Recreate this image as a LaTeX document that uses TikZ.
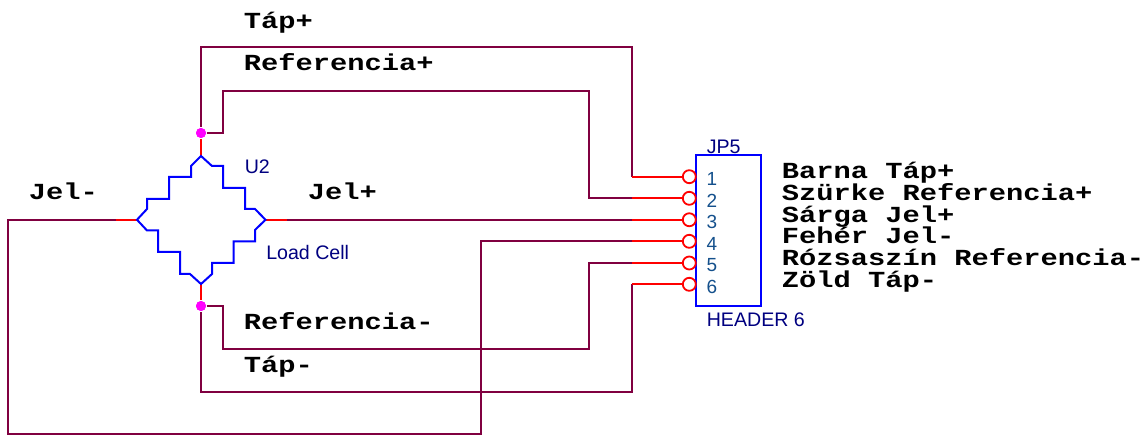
\documentclass[tikz,border=0pt]{standalone}
\usepackage{fontspec}
\setmainfont{Liberation Sans}
\newfontfamily\wirefont[FakeStretch=1.25]{Liberation Mono}
\usetikzlibrary{positioning}
\definecolor{wirecol}{RGB}{128,0,64}
\definecolor{pincol}{RGB}{255,0,0}
\definecolor{partcol}{RGB}{0,0,255}
\definecolor{namecol}{RGB}{0,0,128}
\definecolor{numcol}{RGB}{20,80,140}
\definecolor{dotcol}{RGB}{255,0,255}

\begin{document}
\begin{tikzpicture}[x=1pt,y=-1pt,line width=1.6pt]
  \tikzstyle{wire}=[draw=wirecol]
  \tikzstyle{pin}=[draw=pincol,line width=2pt]
  \tikzstyle{part}=[draw=partcol,line width=2pt]
  \tikzstyle{pad}=[circle,draw=pincol,fill=white,line width=1.8pt,minimum size=13pt,inner sep=0pt]
  \tikzstyle{joint}=[circle,fill=dotcol,minimum size=10pt,inner sep=0pt]
  \tikzstyle{signal}=[anchor=base west,inner sep=0pt,font=\wirefont\bfseries\fontsize{23}{23}\selectfont]
  \tikzstyle{partname}=[anchor=base west,inner sep=0pt,text=namecol,font=\fontsize{19.6}{19.6}\selectfont]
  \tikzstyle{pinnum}=[anchor=base,inner sep=0pt,text=numcol,font=\fontsize{19}{19}\selectfont]

  \useasboundingbox (0,0) rectangle (1146,435);

  % wires
  \node[joint] (jtop) at (201,133) {};
  \node[joint] (jbot) at (201,306) {};
  \coordinate (wl) at (116,219.75);
  \coordinate (wr) at (287,219.75);
  \foreach \n/\y in {1/176.7,2/198.3,3/219.75,4/241.3,5/263,6/284.3}
    \coordinate (s\n) at (632,\y);
  \draw[wire] (jtop) -- (201,47) -- (632,47) -- (s1);
  \draw[wire] (jtop) -- (223,133) -- (223,91) -- (589,91) -- (589,198.3) -- (s2);
  \draw[wire] (wr) -- (s3);
  \draw[wire] (wl) -- (8,219.75) -- (8,434) -- (481,434) -- (481,241.3) -- (s4);
  \draw[wire] (jbot) -- (223,306) -- (223,349) -- (589,349) -- (589,263) -- (s5);
  \draw[wire] (jbot) -- (201,392) -- (632,392) -- (s6);

  % load cell
  \coordinate (top) at (201,156);
  \coordinate (left) at (137,219.75);
  \coordinate (right) at (265.5,219.75);
  \coordinate (bottom) at (201,284);
  \draw[pin] (jtop) -- (top);
  \draw[pin] (jbot) -- (bottom);
  \draw[pin] (wl) -- (left);
  \draw[pin] (wr) -- (right);
  \draw[part] (top) -- (191,166) -- (191,177) -- (169,177) -- (169,199) -- (147,199) -- (147,209) -- (left)
    -- (147,230.5) -- (158,230.5) -- (158,252) -- (180,252) -- (180,274) -- (190,274) -- (bottom)
    -- (212,274) -- (212,263) -- (233.5,263) -- (233.5,241.5) -- (255,241.5) -- (255,230) -- (right)
    -- (255,209) -- (245,209) -- (245,188) -- (223,188) -- (223,166) -- (212,166) -- cycle;
  \node[joint] at (jtop) {};
  \node[joint] at (jbot) {};

  % header
  \node[draw=partcol,line width=2pt,minimum width=64.7pt,minimum height=150.7pt,inner sep=0pt] (header) at (728.3,230.3) {};
  \foreach \n/\y in {1/176.7,2/198.3,3/219.75,4/241.3,5/263,6/284.3}{
    \node[pad] (p\n) at (689.3,\y) {};
    \node[pinnum] (num\n) at (712,\y+9) {\n};
    \draw[pin] (s\n) -- (p\n);
  }

  % labels
  \node[partname] (u2) at (244,173.5) {U2};
  \node[partname] (cell) at (265.5,260) {Load Cell};
  \node[partname] (jp) at (706,154) {JP5};
  \node[partname] (hdr) at (706,326.5) {HEADER 6};

  \node[signal] (tp) at (243,29) {Táp+};
  \node[signal] (rp) at (243,71) {Referencia+};
  \node[signal] (jm) at (28,200) {Jel-};
  \node[signal] (jp2) at (307,200) {Jel+};
  \node[signal] (rm) at (243,330) {Referencia-};
  \node[signal] (tm) at (243,373) {Táp-};
  \node[signal] (c1) at (781,179) {Barna Táp+};
  \node[signal] (c2) at (781,201) {Szürke Referencia+};
  \node[signal] (c3) at (781,223) {Sárga Jel+};
  \node[signal] (c4) at (781,244) {Fehér Jel-};
  \node[signal] (c5) at (781,266) {Rózsaszín Referencia-};
  \node[signal] (c6) at (781,288) {Zöld Táp-};
\end{tikzpicture}
\end{document}
